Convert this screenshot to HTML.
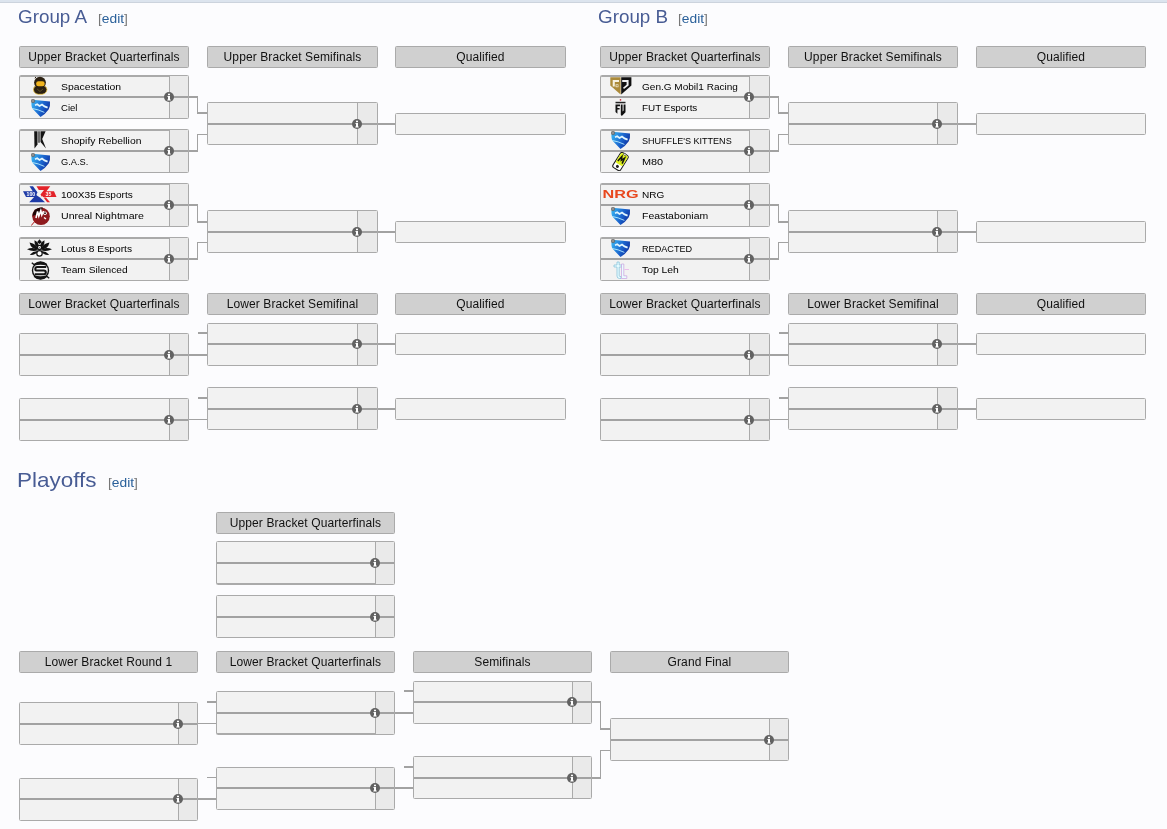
<!DOCTYPE html><html><head><meta charset="utf-8"><style>
*{margin:0;padding:0;box-sizing:content-box}
html,body{width:1167px;height:829px;overflow:hidden;background:#fcfcfe;font-family:"Liberation Sans",sans-serif;position:relative}
#wrap{position:absolute;left:0;top:0;width:1167px;height:829px;will-change:transform}
.topbar{position:absolute;left:0;top:0;width:1167px;height:2px;background:#dce4ee;border-bottom:1px solid #ccd3dd}
.ttl{position:absolute;color:#485c94;white-space:nowrap;line-height:1;transform-origin:0 0}
.ed{position:absolute;font-size:13px;color:#777;white-space:nowrap;line-height:1;transform:scaleX(1.06);transform-origin:0 0}
.ed b{font-weight:normal;color:#2a609a}
.hd{position:absolute;background:#d0d0d0;border:1px solid #aaa;border-radius:1.5px;font-size:12px;line-height:20px;text-align:center;color:#111;white-space:nowrap;letter-spacing:0.1px}
.m{position:absolute;background:#f2f2f2;border:1px solid #aaa;border-radius:1.5px}
.sc{position:absolute;top:0;background:#eaeaea;border-left:1px solid #aaa}
.dv{position:absolute;left:0;height:2px;background:#a2a2a2}
.q{position:absolute;background:#f2f2f2;border:1px solid #aaa;border-radius:1.5px}
.ln{position:absolute}
.ic{position:absolute;width:10px;height:10px;line-height:0}
.tm{position:absolute;left:0;width:150px;height:20px}
.tn{position:absolute;left:41px;font-size:9.5px;line-height:12px;color:#000;white-space:nowrap;transform-origin:0 0}
.lg{position:absolute}
</style></head><body><div id="wrap"><svg width="0" height="0" style="position:absolute"><defs><linearGradient id="rlg" x1="0" y1="0.3" x2="1" y2="0.7"><stop offset="0" stop-color="#35aef0"/><stop offset="0.55" stop-color="#1a62cc"/><stop offset="1" stop-color="#0c2a98"/></linearGradient></defs></svg>
<div class="topbar"></div>
<div class="ttl" style="left:17.5px;top:8px;font-size:18px;transform:scaleX(1.046)">Group A</div>
<div class="ed" style="left:98px;top:12px">[<b>edit</b>]</div>
<div class="hd" style="left:19px;top:46px;width:168px;height:20px">Upper Bracket Quarterfinals</div>
<div class="hd" style="left:207px;top:46px;width:169px;height:20px">Upper Bracket Semifinals</div>
<div class="hd" style="left:395px;top:46px;width:169px;height:20px">Qualified</div>
<div class="m" style="left:19px;top:75px;width:168px;height:42px;box-shadow:inset 0 1px 0 #aaa">
<div class="sc" style="left:149px;width:18px;height:42px"></div>
<div class="dv" style="top:20px;width:168px"></div>
<div class="tm" style="top:0px"><svg class="lg" style="left:13px;top:0px" width="15" height="19" viewBox="0 0 15 19"><path d="M0.4 13.2 Q0.8 9.8 4 9.8 H10 Q13.4 9.8 14 13.2 Q13.8 17.4 9.2 18.3 H5.2 Q0.6 17.6 0.4 13.2 Z" fill="#2b2012" stroke="#f3cc4a" stroke-width="0.8"/><circle cx="7" cy="6.6" r="5.9" fill="#2b2012"/><path d="M1.8 2.2 L3 1" stroke="#2b2012" stroke-width="1"/><rect x="3.1" y="5.3" width="8.6" height="5" rx="2.4" fill="#f2b51e"/><path d="M4.2 13 L7 15.5 L10 13" stroke="#6b5a2a" stroke-width="0.8" fill="none"/></svg><span class="tn" style="top:5px;transform:scaleX(1.095)">Spacestation</span></div>
<div class="tm" style="top:22px"><svg class="lg" style="left:11px;top:1px" width="20" height="19" viewBox="0 0 20 19"><path d="M0.4 4.6 Q0.7 1.2 4 1.1 L19 2.4 Q19.5 6.8 17.6 10.6 Q14.2 15.6 9.5 17.9 L3 11.2 Q0.4 9.6 0.4 4.6 Z" fill="url(#rlg)"/><path d="M1.2 9.5 Q7 10.3 13.4 13.4" stroke="#b5ecff" stroke-width="0.9" fill="none"/><path d="M4 6.2 L6.2 5.2 L8.5 6.9 L11 5.5 L13.5 7.4 L16.6 8.6" stroke="#e2f6ff" stroke-width="1.7" fill="none"/><circle cx="2" cy="2" r="1.8" fill="#8f8f8f" stroke="#555" stroke-width="0.6"/></svg><span class="tn" style="top:4px;transform:scaleX(1.003)">Ciel</span></div>
</div>
<div class="ic" style="left:164px;top:92px"><svg width="10" height="10" viewBox="0 0 10 10"><circle cx="5" cy="5" r="5" fill="#626262"/><rect x="4" y="1.7" width="2" height="1.5" fill="#fff"/><path d="M3.5 4h2.5v3.6h0.7v1h-3.4v-1h0.7v-2.6h-0.5z" fill="#fff"/></svg></div>
<div class="m" style="left:19px;top:129px;width:168px;height:42px;box-shadow:inset 0 1px 0 #aaa">
<div class="sc" style="left:149px;width:18px;height:42px"></div>
<div class="dv" style="top:20px;width:168px"></div>
<div class="tm" style="top:0px"><svg class="lg" style="left:14px;top:1px" width="13" height="18" viewBox="0 0 13 18"><path d="M0.2 0.2H3.5V13.5L0.5 17.6Z" fill="#141414"/><path d="M4.1 0.2H5.9V11.7H4.1Z" fill="#5a5a5a"/><path d="M6.5 0.2H11.6L8.2 8L12 17.6L6.5 11Z" fill="#141414"/></svg><span class="tn" style="top:5px;transform:scaleX(1.087)">Shopify Rebellion</span></div>
<div class="tm" style="top:22px"><svg class="lg" style="left:11px;top:1px" width="20" height="19" viewBox="0 0 20 19"><path d="M0.4 4.6 Q0.7 1.2 4 1.1 L19 2.4 Q19.5 6.8 17.6 10.6 Q14.2 15.6 9.5 17.9 L3 11.2 Q0.4 9.6 0.4 4.6 Z" fill="url(#rlg)"/><path d="M1.2 9.5 Q7 10.3 13.4 13.4" stroke="#b5ecff" stroke-width="0.9" fill="none"/><path d="M4 6.2 L6.2 5.2 L8.5 6.9 L11 5.5 L13.5 7.4 L16.6 8.6" stroke="#e2f6ff" stroke-width="1.7" fill="none"/><circle cx="2" cy="2" r="1.8" fill="#8f8f8f" stroke="#555" stroke-width="0.6"/></svg><span class="tn" style="top:4px;transform:scaleX(0.975)">G.A.S.</span></div>
</div>
<div class="ic" style="left:164px;top:146px"><svg width="10" height="10" viewBox="0 0 10 10"><circle cx="5" cy="5" r="5" fill="#626262"/><rect x="4" y="1.7" width="2" height="1.5" fill="#fff"/><path d="M3.5 4h2.5v3.6h0.7v1h-3.4v-1h0.7v-2.6h-0.5z" fill="#fff"/></svg></div>
<div class="m" style="left:19px;top:183px;width:168px;height:42px;box-shadow:inset 0 1px 0 #aaa">
<div class="sc" style="left:149px;width:18px;height:42px"></div>
<div class="dv" style="top:20px;width:168px"></div>
<div class="tm" style="top:0px"><svg class="lg" style="left:3px;top:2px" width="34" height="17" viewBox="0 0 34 17"><path d="M6.5 0.3H10L14.5 6.5L12.5 9.5z" fill="#1d3aa6"/><path d="M0 5.2H13.5V11H3z" fill="#1d3aa6"/><path d="M13 9 L17 11.5 L22 16.2H6.2z" fill="#1d3aa6"/><path d="M13.5 0.3H27.3L19 11L17.5 8.5L21 4H15.8z" fill="#e3232a"/><path d="M20 5.2H31L33.5 11H20z" fill="#e3232a"/><path d="M20.5 11.5H23L27 16.2H24.2z" fill="#e3232a"/><text x="3.6" y="10" font-size="5.2" font-family="Liberation Sans" font-weight="bold" fill="#fff">100</text><text x="22.5" y="10" font-size="5.2" font-family="Liberation Sans" font-weight="bold" fill="#fff">35</text></svg><span class="tn" style="top:5px;transform:scaleX(1.061)">100X35 Esports</span></div>
<div class="tm" style="top:22px"><svg class="lg" style="left:11px;top:1px" width="20" height="19" viewBox="0 0 20 19"><circle cx="10" cy="9.2" r="8.8" fill="#8e1a1e"/><path d="M1.5 9 A8.8 8.8 0 0 1 12 0.6 L9 6z" fill="#1c0606"/><path d="M5 11 L6.6 4.5 L7.8 9 L9.8 3.6 L10.8 8 L12.5 4" stroke="#fff" stroke-width="1.6" fill="none"/><circle cx="14" cy="6.2" r="1.8" fill="#fff"/><circle cx="14" cy="6.2" r="0.9" fill="#1c0606"/><path d="M13 10.5 L15 12" stroke="#fff" stroke-width="1.3"/><path d="M0.2 18.6 L4.5 13.5" stroke="#b01a1a" stroke-width="1"/></svg><span class="tn" style="top:4px;transform:scaleX(1.114)">Unreal Nightmare</span></div>
</div>
<div class="ic" style="left:164px;top:200px"><svg width="10" height="10" viewBox="0 0 10 10"><circle cx="5" cy="5" r="5" fill="#626262"/><rect x="4" y="1.7" width="2" height="1.5" fill="#fff"/><path d="M3.5 4h2.5v3.6h0.7v1h-3.4v-1h0.7v-2.6h-0.5z" fill="#fff"/></svg></div>
<div class="m" style="left:19px;top:237px;width:168px;height:42px;box-shadow:inset 0 1px 0 #aaa">
<div class="sc" style="left:149px;width:18px;height:42px"></div>
<div class="dv" style="top:20px;width:168px"></div>
<div class="tm" style="top:0px"><svg class="lg" style="left:7px;top:1px" width="26" height="18" viewBox="0 0 26 18"><path d="M12.5 0.2 L15 3.2 L12.5 5 L10 3.2z" fill="#111"/><path d="M7.5 1.2 Q12 3.5 12.3 9 Q7 7.5 7.5 1.2z" fill="#111"/><path d="M17.5 1.2 Q13 3.5 12.7 9 Q18 7.5 17.5 1.2z" fill="#111"/><path d="M2.5 3.5 Q10 5 11.5 10.5 Q4 10.5 2.5 3.5z" fill="#111"/><path d="M22.5 3.5 Q15 5 13.5 10.5 Q21 10.5 22.5 3.5z" fill="#111"/><path d="M0 10.3 Q6 7.5 11.5 11 Q6 13.5 0 10.3z" fill="#111"/><path d="M25 10.3 Q19 7.5 13.5 11 Q19 13.5 25 10.3z" fill="#111"/><path d="M2.8 15.8 Q7 11.5 11 12.5 Q8 16.5 2.8 15.8z" fill="#111"/><path d="M22.2 15.8 Q18 11.5 14 12.5 Q17 16.5 22.2 15.8z" fill="#111"/><circle cx="12.5" cy="8.4" r="2.6" fill="#111"/><circle cx="12.5" cy="8.4" r="1.4" fill="#fff"/><rect x="11.8" y="8" width="1.4" height="0.6" fill="#111"/><circle cx="12.5" cy="14.4" r="2.7" fill="#fff" stroke="#111" stroke-width="1.2"/></svg><span class="tn" style="top:5px;transform:scaleX(1.076)">Lotus 8 Esports</span></div>
<div class="tm" style="top:22px"><svg class="lg" style="left:11px;top:1px" width="19" height="19" viewBox="0 0 19 19"><circle cx="9.5" cy="9.5" r="8" fill="none" stroke="#151515" stroke-width="1.4"/><path d="M3.2 3.6 Q9.5 -1.6 15.8 3.6 Q9.5 2.4 3.2 3.6z" fill="#151515" stroke="#151515" stroke-width="1.6"/><path d="M3.2 15.4 Q9.5 20.6 15.8 15.4 Q9.5 16.6 3.2 15.4z" fill="#151515" stroke="#151515" stroke-width="1.6"/><path d="M15.2 6 H6.2 Q4.3 6 4.3 7.9 Q4.3 9.6 6.2 9.6 H12.8 Q14.8 9.6 14.8 11.4 Q14.8 13.2 12.8 13.2 H3.8" stroke="#151515" stroke-width="2" fill="none"/><path d="M0.8 1.8 L3.2 3.8 M18.2 17.2 L15.8 15.2" stroke="#151515" stroke-width="1.4"/></svg><span class="tn" style="top:4px;transform:scaleX(1.069)">Team Silenced</span></div>
</div>
<div class="ic" style="left:164px;top:254px"><svg width="10" height="10" viewBox="0 0 10 10"><circle cx="5" cy="5" r="5" fill="#626262"/><rect x="4" y="1.7" width="2" height="1.5" fill="#fff"/><path d="M3.5 4h2.5v3.6h0.7v1h-3.4v-1h0.7v-2.6h-0.5z" fill="#fff"/></svg></div>
<div class="m" style="left:207px;top:102px;width:169px;height:41px">
<div class="sc" style="left:149px;width:19px;height:41px"></div>
<div class="dv" style="top:20px;width:169px"></div>
</div>
<div class="ic" style="left:352px;top:119px"><svg width="10" height="10" viewBox="0 0 10 10"><circle cx="5" cy="5" r="5" fill="#626262"/><rect x="4" y="1.7" width="2" height="1.5" fill="#fff"/><path d="M3.5 4h2.5v3.6h0.7v1h-3.4v-1h0.7v-2.6h-0.5z" fill="#fff"/></svg></div>
<div class="m" style="left:207px;top:210px;width:169px;height:41px">
<div class="sc" style="left:149px;width:19px;height:41px"></div>
<div class="dv" style="top:20px;width:169px"></div>
</div>
<div class="ic" style="left:352px;top:227px"><svg width="10" height="10" viewBox="0 0 10 10"><circle cx="5" cy="5" r="5" fill="#626262"/><rect x="4" y="1.7" width="2" height="1.5" fill="#fff"/><path d="M3.5 4h2.5v3.6h0.7v1h-3.4v-1h0.7v-2.6h-0.5z" fill="#fff"/></svg></div>
<div class="q" style="left:395px;top:113px;width:169px;height:20px"></div>
<div class="q" style="left:395px;top:221px;width:169px;height:20px"></div>
<div class="ln" style="left:189px;top:96px;width:9px;height:2px;background:#a2a2a2"></div>
<div class="ln" style="left:197px;top:96px;width:1px;height:17px;background:#a2a2a2"></div>
<div class="ln" style="left:197px;top:112px;width:10px;height:2px;background:#a2a2a2"></div>
<div class="ln" style="left:189px;top:150px;width:9px;height:2px;background:#a2a2a2"></div>
<div class="ln" style="left:197px;top:134px;width:1px;height:17px;background:#a2a2a2"></div>
<div class="ln" style="left:197px;top:134px;width:10px;height:1px;background:#a2a2a2"></div>
<div class="ln" style="left:378px;top:123px;width:17px;height:2px;background:#a2a2a2"></div>
<div class="ln" style="left:189px;top:204px;width:9px;height:2px;background:#a2a2a2"></div>
<div class="ln" style="left:197px;top:204px;width:1px;height:18px;background:#a2a2a2"></div>
<div class="ln" style="left:197px;top:221px;width:10px;height:2px;background:#a2a2a2"></div>
<div class="ln" style="left:189px;top:258px;width:9px;height:2px;background:#a2a2a2"></div>
<div class="ln" style="left:197px;top:242px;width:1px;height:17px;background:#a2a2a2"></div>
<div class="ln" style="left:197px;top:242px;width:10px;height:1px;background:#a2a2a2"></div>
<div class="ln" style="left:378px;top:231px;width:17px;height:2px;background:#a2a2a2"></div>
<div class="hd" style="left:19px;top:293px;width:168px;height:20px">Lower Bracket Quarterfinals</div>
<div class="hd" style="left:207px;top:293px;width:169px;height:20px">Lower Bracket Semifinal</div>
<div class="hd" style="left:395px;top:293px;width:169px;height:20px">Qualified</div>
<div class="m" style="left:19px;top:333px;width:168px;height:41px">
<div class="sc" style="left:149px;width:18px;height:41px"></div>
<div class="dv" style="top:20px;width:168px"></div>
</div>
<div class="ic" style="left:164px;top:350px"><svg width="10" height="10" viewBox="0 0 10 10"><circle cx="5" cy="5" r="5" fill="#626262"/><rect x="4" y="1.7" width="2" height="1.5" fill="#fff"/><path d="M3.5 4h2.5v3.6h0.7v1h-3.4v-1h0.7v-2.6h-0.5z" fill="#fff"/></svg></div>
<div class="m" style="left:19px;top:398px;width:168px;height:41px">
<div class="sc" style="left:149px;width:18px;height:41px"></div>
<div class="dv" style="top:20px;width:168px"></div>
</div>
<div class="ic" style="left:164px;top:415px"><svg width="10" height="10" viewBox="0 0 10 10"><circle cx="5" cy="5" r="5" fill="#626262"/><rect x="4" y="1.7" width="2" height="1.5" fill="#fff"/><path d="M3.5 4h2.5v3.6h0.7v1h-3.4v-1h0.7v-2.6h-0.5z" fill="#fff"/></svg></div>
<div class="m" style="left:207px;top:323px;width:169px;height:41px">
<div class="sc" style="left:149px;width:19px;height:41px"></div>
<div class="dv" style="top:19px;width:169px"></div>
</div>
<div class="ic" style="left:352px;top:339px"><svg width="10" height="10" viewBox="0 0 10 10"><circle cx="5" cy="5" r="5" fill="#626262"/><rect x="4" y="1.7" width="2" height="1.5" fill="#fff"/><path d="M3.5 4h2.5v3.6h0.7v1h-3.4v-1h0.7v-2.6h-0.5z" fill="#fff"/></svg></div>
<div class="m" style="left:207px;top:387px;width:169px;height:41px">
<div class="sc" style="left:149px;width:19px;height:41px"></div>
<div class="dv" style="top:20px;width:169px"></div>
</div>
<div class="ic" style="left:352px;top:404px"><svg width="10" height="10" viewBox="0 0 10 10"><circle cx="5" cy="5" r="5" fill="#626262"/><rect x="4" y="1.7" width="2" height="1.5" fill="#fff"/><path d="M3.5 4h2.5v3.6h0.7v1h-3.4v-1h0.7v-2.6h-0.5z" fill="#fff"/></svg></div>
<div class="q" style="left:395px;top:333px;width:169px;height:20px"></div>
<div class="q" style="left:395px;top:398px;width:169px;height:20px"></div>
<div class="ln" style="left:198px;top:332px;width:9px;height:2px;background:#a2a2a2"></div>
<div class="ln" style="left:198px;top:397px;width:9px;height:2px;background:#a2a2a2"></div>
<div class="ln" style="left:189px;top:354px;width:18px;height:2px;background:#a2a2a2"></div>
<div class="ln" style="left:189px;top:419px;width:18px;height:1px;background:#a2a2a2"></div>
<div class="ln" style="left:378px;top:343px;width:17px;height:2px;background:#a2a2a2"></div>
<div class="ln" style="left:378px;top:408px;width:17px;height:2px;background:#a2a2a2"></div>
<div class="ttl" style="left:598px;top:8px;font-size:18px;transform:scaleX(1.046)">Group B</div>
<div class="ed" style="left:678px;top:12px">[<b>edit</b>]</div>
<div class="hd" style="left:600px;top:46px;width:168px;height:20px">Upper Bracket Quarterfinals</div>
<div class="hd" style="left:788px;top:46px;width:168px;height:20px">Upper Bracket Semifinals</div>
<div class="hd" style="left:976px;top:46px;width:168px;height:20px">Qualified</div>
<div class="m" style="left:600px;top:75px;width:168px;height:42px;box-shadow:inset 0 1px 0 #aaa">
<div class="sc" style="left:148px;width:19px;height:42px"></div>
<div class="dv" style="top:20px;width:168px"></div>
<div class="tm" style="top:0px"><svg class="lg" style="left:9px;top:1px" width="22" height="18" viewBox="0 0 22 18"><path d="M0.3 0.2H10.6V17.6L0.3 8.6z" fill="#ab8a3a"/><path d="M11.2 0.2H21.4V8.6L11.2 17.6z" fill="#111"/><path d="M2.7 3H9V5H4.8V9.4H2.7z" fill="#f6f1e2"/><path d="M5.6 7.4H8.4V10.2H5.6z" fill="#f6f1e2"/><path d="M6.4 8H7.8V9.6H6.4z" fill="#ab8a3a"/><path d="M12.2 3H18.6V8.4L14 12L13 10.8L16.6 7.7V5H12.2z" fill="#f0f0f0"/></svg><span class="tn" style="top:5px;transform:scaleX(1.056)">Gen.G Mobil1 Racing</span></div>
<div class="tm" style="top:22px"><svg class="lg" style="left:14px;top:1px" width="11" height="18" viewBox="0 0 11 18"><circle cx="5.5" cy="0.9" r="0.8" fill="#c23"/><rect x="0.5" y="2.8" width="10" height="1.5" fill="#222"/><path d="M0.5 5.5H5V7.2H2.4V9H4.6V10.6H2.4V14.8L0.5 13z" fill="#111"/><path d="M5.8 5.5H7.6V12.5L8.6 11.5V5.5H10.5V13.2L6.8 17L5.8 15.8z" fill="#111"/></svg><span class="tn" style="top:4px;transform:scaleX(1.041)">FUT Esports</span></div>
</div>
<div class="ic" style="left:744px;top:92px"><svg width="10" height="10" viewBox="0 0 10 10"><circle cx="5" cy="5" r="5" fill="#626262"/><rect x="4" y="1.7" width="2" height="1.5" fill="#fff"/><path d="M3.5 4h2.5v3.6h0.7v1h-3.4v-1h0.7v-2.6h-0.5z" fill="#fff"/></svg></div>
<div class="m" style="left:600px;top:129px;width:168px;height:42px;box-shadow:inset 0 1px 0 #aaa">
<div class="sc" style="left:148px;width:19px;height:42px"></div>
<div class="dv" style="top:20px;width:168px"></div>
<div class="tm" style="top:0px"><svg class="lg" style="left:10px;top:1px" width="20" height="19" viewBox="0 0 20 19"><path d="M0.4 4.6 Q0.7 1.2 4 1.1 L19 2.4 Q19.5 6.8 17.6 10.6 Q14.2 15.6 9.5 17.9 L3 11.2 Q0.4 9.6 0.4 4.6 Z" fill="url(#rlg)"/><path d="M1.2 9.5 Q7 10.3 13.4 13.4" stroke="#b5ecff" stroke-width="0.9" fill="none"/><path d="M4 6.2 L6.2 5.2 L8.5 6.9 L11 5.5 L13.5 7.4 L16.6 8.6" stroke="#e2f6ff" stroke-width="1.7" fill="none"/><circle cx="2" cy="2" r="1.8" fill="#8f8f8f" stroke="#555" stroke-width="0.6"/></svg><span class="tn" style="top:5px;transform:scaleX(0.952)">SHUFFLE&#39;S KITTENS</span></div>
<div class="tm" style="top:22px"><svg class="lg" style="left:11px;top:0px" width="17" height="19" viewBox="0 0 17 19"><g transform="rotate(32 8.5 9.5)"><rect x="4" y="0.8" width="9" height="17.5" rx="2" fill="#fff" stroke="#1a1a1a" stroke-width="1"/><rect x="4.5" y="1.3" width="8" height="11.5" rx="1.5" fill="#dff21c"/><circle cx="8.5" cy="1.2" r="1.1" fill="#fff" stroke="#333" stroke-width="0.6"/><path d="M6 10.5 L7 4.5 L8.6 8 L10.2 4.5 L11 10.5" stroke="#111" stroke-width="1.5" fill="none"/><circle cx="8.5" cy="15.3" r="1.5" fill="#222"/></g></svg><span class="tn" style="top:4px;transform:scaleX(1.146)">M80</span></div>
</div>
<div class="ic" style="left:744px;top:146px"><svg width="10" height="10" viewBox="0 0 10 10"><circle cx="5" cy="5" r="5" fill="#626262"/><rect x="4" y="1.7" width="2" height="1.5" fill="#fff"/><path d="M3.5 4h2.5v3.6h0.7v1h-3.4v-1h0.7v-2.6h-0.5z" fill="#fff"/></svg></div>
<div class="m" style="left:600px;top:183px;width:168px;height:42px;box-shadow:inset 0 1px 0 #aaa">
<div class="sc" style="left:148px;width:19px;height:42px"></div>
<div class="dv" style="top:20px;width:168px"></div>
<div class="tm" style="top:0px"><svg class="lg" style="left:0.5px;top:6px" width="37" height="9" viewBox="0 0 37 9"><text x="0.5" y="8.3" font-size="11" font-family="Liberation Sans" font-weight="bold" fill="#e8471d" textLength="36" lengthAdjust="spacingAndGlyphs">NRG</text></svg><span class="tn" style="top:5px;transform:scaleX(1.056)">NRG</span></div>
<div class="tm" style="top:22px"><svg class="lg" style="left:10px;top:1px" width="20" height="19" viewBox="0 0 20 19"><path d="M0.4 4.6 Q0.7 1.2 4 1.1 L19 2.4 Q19.5 6.8 17.6 10.6 Q14.2 15.6 9.5 17.9 L3 11.2 Q0.4 9.6 0.4 4.6 Z" fill="url(#rlg)"/><path d="M1.2 9.5 Q7 10.3 13.4 13.4" stroke="#b5ecff" stroke-width="0.9" fill="none"/><path d="M4 6.2 L6.2 5.2 L8.5 6.9 L11 5.5 L13.5 7.4 L16.6 8.6" stroke="#e2f6ff" stroke-width="1.7" fill="none"/><circle cx="2" cy="2" r="1.8" fill="#8f8f8f" stroke="#555" stroke-width="0.6"/></svg><span class="tn" style="top:4px;transform:scaleX(1.099)">Feastaboniam</span></div>
</div>
<div class="ic" style="left:744px;top:200px"><svg width="10" height="10" viewBox="0 0 10 10"><circle cx="5" cy="5" r="5" fill="#626262"/><rect x="4" y="1.7" width="2" height="1.5" fill="#fff"/><path d="M3.5 4h2.5v3.6h0.7v1h-3.4v-1h0.7v-2.6h-0.5z" fill="#fff"/></svg></div>
<div class="m" style="left:600px;top:237px;width:168px;height:42px;box-shadow:inset 0 1px 0 #aaa">
<div class="sc" style="left:148px;width:19px;height:42px"></div>
<div class="dv" style="top:20px;width:168px"></div>
<div class="tm" style="top:0px"><svg class="lg" style="left:10px;top:1px" width="20" height="19" viewBox="0 0 20 19"><path d="M0.4 4.6 Q0.7 1.2 4 1.1 L19 2.4 Q19.5 6.8 17.6 10.6 Q14.2 15.6 9.5 17.9 L3 11.2 Q0.4 9.6 0.4 4.6 Z" fill="url(#rlg)"/><path d="M1.2 9.5 Q7 10.3 13.4 13.4" stroke="#b5ecff" stroke-width="0.9" fill="none"/><path d="M4 6.2 L6.2 5.2 L8.5 6.9 L11 5.5 L13.5 7.4 L16.6 8.6" stroke="#e2f6ff" stroke-width="1.7" fill="none"/><circle cx="2" cy="2" r="1.8" fill="#8f8f8f" stroke="#555" stroke-width="0.6"/></svg><span class="tn" style="top:5px;transform:scaleX(0.96)">REDACTED</span></div>
<div class="tm" style="top:22px"><svg class="lg" style="left:11px;top:1px" width="18" height="19" viewBox="0 0 18 19"><path d="M5 1 V4 H2 V6 H5 V15 Q5 17.5 7.5 17.5 H9 V15.5 H8 Q7.2 15.5 7.2 14.5 V6 H10 V4 H7.2 V1z" fill="#e6fbff" stroke="#7fbfd8" stroke-width="0.7"/><path d="M9.5 3 H11.8 V14.8 H14.8 V17.5 H9.5z" fill="#eafcff" stroke="#c8a0e0" stroke-width="0.7"/><path d="M12.5 8.5 H17" stroke="#e8b0e8" stroke-width="0.8"/></svg><span class="tn" style="top:4px;transform:scaleX(1.091)">Top Leh</span></div>
</div>
<div class="ic" style="left:744px;top:254px"><svg width="10" height="10" viewBox="0 0 10 10"><circle cx="5" cy="5" r="5" fill="#626262"/><rect x="4" y="1.7" width="2" height="1.5" fill="#fff"/><path d="M3.5 4h2.5v3.6h0.7v1h-3.4v-1h0.7v-2.6h-0.5z" fill="#fff"/></svg></div>
<div class="m" style="left:788px;top:102px;width:168px;height:41px">
<div class="sc" style="left:148px;width:19px;height:41px"></div>
<div class="dv" style="top:20px;width:168px"></div>
</div>
<div class="ic" style="left:932px;top:119px"><svg width="10" height="10" viewBox="0 0 10 10"><circle cx="5" cy="5" r="5" fill="#626262"/><rect x="4" y="1.7" width="2" height="1.5" fill="#fff"/><path d="M3.5 4h2.5v3.6h0.7v1h-3.4v-1h0.7v-2.6h-0.5z" fill="#fff"/></svg></div>
<div class="m" style="left:788px;top:210px;width:168px;height:41px">
<div class="sc" style="left:148px;width:19px;height:41px"></div>
<div class="dv" style="top:20px;width:168px"></div>
</div>
<div class="ic" style="left:932px;top:227px"><svg width="10" height="10" viewBox="0 0 10 10"><circle cx="5" cy="5" r="5" fill="#626262"/><rect x="4" y="1.7" width="2" height="1.5" fill="#fff"/><path d="M3.5 4h2.5v3.6h0.7v1h-3.4v-1h0.7v-2.6h-0.5z" fill="#fff"/></svg></div>
<div class="q" style="left:976px;top:113px;width:168px;height:20px"></div>
<div class="q" style="left:976px;top:221px;width:168px;height:20px"></div>
<div class="ln" style="left:770px;top:96px;width:9px;height:2px;background:#a2a2a2"></div>
<div class="ln" style="left:778px;top:96px;width:1px;height:17px;background:#a2a2a2"></div>
<div class="ln" style="left:778px;top:112px;width:10px;height:2px;background:#a2a2a2"></div>
<div class="ln" style="left:770px;top:150px;width:9px;height:2px;background:#a2a2a2"></div>
<div class="ln" style="left:778px;top:134px;width:1px;height:17px;background:#a2a2a2"></div>
<div class="ln" style="left:778px;top:134px;width:10px;height:1px;background:#a2a2a2"></div>
<div class="ln" style="left:958px;top:123px;width:18px;height:2px;background:#a2a2a2"></div>
<div class="ln" style="left:770px;top:204px;width:9px;height:2px;background:#a2a2a2"></div>
<div class="ln" style="left:778px;top:204px;width:1px;height:18px;background:#a2a2a2"></div>
<div class="ln" style="left:778px;top:221px;width:10px;height:2px;background:#a2a2a2"></div>
<div class="ln" style="left:770px;top:258px;width:9px;height:2px;background:#a2a2a2"></div>
<div class="ln" style="left:778px;top:242px;width:1px;height:17px;background:#a2a2a2"></div>
<div class="ln" style="left:778px;top:242px;width:10px;height:1px;background:#a2a2a2"></div>
<div class="ln" style="left:958px;top:231px;width:18px;height:2px;background:#a2a2a2"></div>
<div class="hd" style="left:600px;top:293px;width:168px;height:20px">Lower Bracket Quarterfinals</div>
<div class="hd" style="left:788px;top:293px;width:168px;height:20px">Lower Bracket Semifinal</div>
<div class="hd" style="left:976px;top:293px;width:168px;height:20px">Qualified</div>
<div class="m" style="left:600px;top:333px;width:168px;height:41px">
<div class="sc" style="left:148px;width:19px;height:41px"></div>
<div class="dv" style="top:20px;width:168px"></div>
</div>
<div class="ic" style="left:744px;top:350px"><svg width="10" height="10" viewBox="0 0 10 10"><circle cx="5" cy="5" r="5" fill="#626262"/><rect x="4" y="1.7" width="2" height="1.5" fill="#fff"/><path d="M3.5 4h2.5v3.6h0.7v1h-3.4v-1h0.7v-2.6h-0.5z" fill="#fff"/></svg></div>
<div class="m" style="left:600px;top:398px;width:168px;height:41px">
<div class="sc" style="left:148px;width:19px;height:41px"></div>
<div class="dv" style="top:20px;width:168px"></div>
</div>
<div class="ic" style="left:744px;top:415px"><svg width="10" height="10" viewBox="0 0 10 10"><circle cx="5" cy="5" r="5" fill="#626262"/><rect x="4" y="1.7" width="2" height="1.5" fill="#fff"/><path d="M3.5 4h2.5v3.6h0.7v1h-3.4v-1h0.7v-2.6h-0.5z" fill="#fff"/></svg></div>
<div class="m" style="left:788px;top:323px;width:168px;height:41px">
<div class="sc" style="left:148px;width:19px;height:41px"></div>
<div class="dv" style="top:19px;width:168px"></div>
</div>
<div class="ic" style="left:932px;top:339px"><svg width="10" height="10" viewBox="0 0 10 10"><circle cx="5" cy="5" r="5" fill="#626262"/><rect x="4" y="1.7" width="2" height="1.5" fill="#fff"/><path d="M3.5 4h2.5v3.6h0.7v1h-3.4v-1h0.7v-2.6h-0.5z" fill="#fff"/></svg></div>
<div class="m" style="left:788px;top:387px;width:168px;height:41px">
<div class="sc" style="left:148px;width:19px;height:41px"></div>
<div class="dv" style="top:20px;width:168px"></div>
</div>
<div class="ic" style="left:932px;top:404px"><svg width="10" height="10" viewBox="0 0 10 10"><circle cx="5" cy="5" r="5" fill="#626262"/><rect x="4" y="1.7" width="2" height="1.5" fill="#fff"/><path d="M3.5 4h2.5v3.6h0.7v1h-3.4v-1h0.7v-2.6h-0.5z" fill="#fff"/></svg></div>
<div class="q" style="left:976px;top:333px;width:168px;height:20px"></div>
<div class="q" style="left:976px;top:398px;width:168px;height:20px"></div>
<div class="ln" style="left:779px;top:332px;width:9px;height:2px;background:#a2a2a2"></div>
<div class="ln" style="left:779px;top:397px;width:9px;height:2px;background:#a2a2a2"></div>
<div class="ln" style="left:770px;top:354px;width:18px;height:2px;background:#a2a2a2"></div>
<div class="ln" style="left:770px;top:419px;width:18px;height:1px;background:#a2a2a2"></div>
<div class="ln" style="left:958px;top:343px;width:18px;height:2px;background:#a2a2a2"></div>
<div class="ln" style="left:958px;top:408px;width:18px;height:2px;background:#a2a2a2"></div>
<div class="ttl" style="left:17px;top:469px;font-size:21px;transform:scaleX(1.07)">Playoffs</div>
<div class="ed" style="left:107.5px;top:476px">[<b>edit</b>]</div>
<div class="hd" style="left:216px;top:512px;width:177px;height:20px">Upper Bracket Quarterfinals</div>
<div class="m" style="left:216px;top:541px;width:177px;height:42px;box-shadow:inset 0 -1px 0 #aaa">
<div class="sc" style="left:158px;width:18px;height:42px"></div>
<div class="dv" style="top:20px;width:177px"></div>
</div>
<div class="ic" style="left:370px;top:558px"><svg width="10" height="10" viewBox="0 0 10 10"><circle cx="5" cy="5" r="5" fill="#626262"/><rect x="4" y="1.7" width="2" height="1.5" fill="#fff"/><path d="M3.5 4h2.5v3.6h0.7v1h-3.4v-1h0.7v-2.6h-0.5z" fill="#fff"/></svg></div>
<div class="m" style="left:216px;top:595px;width:177px;height:41px">
<div class="sc" style="left:158px;width:18px;height:41px"></div>
<div class="dv" style="top:20px;width:177px"></div>
</div>
<div class="ic" style="left:370px;top:612px"><svg width="10" height="10" viewBox="0 0 10 10"><circle cx="5" cy="5" r="5" fill="#626262"/><rect x="4" y="1.7" width="2" height="1.5" fill="#fff"/><path d="M3.5 4h2.5v3.6h0.7v1h-3.4v-1h0.7v-2.6h-0.5z" fill="#fff"/></svg></div>
<div class="hd" style="left:19px;top:651px;width:177px;height:20px">Lower Bracket Round 1</div>
<div class="hd" style="left:216px;top:651px;width:177px;height:20px">Lower Bracket Quarterfinals</div>
<div class="hd" style="left:413px;top:651px;width:177px;height:20px">Semifinals</div>
<div class="hd" style="left:610px;top:651px;width:177px;height:20px">Grand Final</div>
<div class="m" style="left:19px;top:702px;width:177px;height:41px">
<div class="sc" style="left:158px;width:18px;height:41px"></div>
<div class="dv" style="top:20px;width:177px"></div>
</div>
<div class="ic" style="left:173px;top:719px"><svg width="10" height="10" viewBox="0 0 10 10"><circle cx="5" cy="5" r="5" fill="#626262"/><rect x="4" y="1.7" width="2" height="1.5" fill="#fff"/><path d="M3.5 4h2.5v3.6h0.7v1h-3.4v-1h0.7v-2.6h-0.5z" fill="#fff"/></svg></div>
<div class="m" style="left:19px;top:778px;width:177px;height:41px">
<div class="sc" style="left:158px;width:18px;height:41px"></div>
<div class="dv" style="top:19px;width:177px"></div>
</div>
<div class="ic" style="left:173px;top:794px"><svg width="10" height="10" viewBox="0 0 10 10"><circle cx="5" cy="5" r="5" fill="#626262"/><rect x="4" y="1.7" width="2" height="1.5" fill="#fff"/><path d="M3.5 4h2.5v3.6h0.7v1h-3.4v-1h0.7v-2.6h-0.5z" fill="#fff"/></svg></div>
<div class="m" style="left:216px;top:691px;width:177px;height:42px;box-shadow:inset 0 -1px 0 #aaa">
<div class="sc" style="left:158px;width:18px;height:42px"></div>
<div class="dv" style="top:20px;width:177px"></div>
</div>
<div class="ic" style="left:370px;top:708px"><svg width="10" height="10" viewBox="0 0 10 10"><circle cx="5" cy="5" r="5" fill="#626262"/><rect x="4" y="1.7" width="2" height="1.5" fill="#fff"/><path d="M3.5 4h2.5v3.6h0.7v1h-3.4v-1h0.7v-2.6h-0.5z" fill="#fff"/></svg></div>
<div class="m" style="left:216px;top:767px;width:177px;height:41px">
<div class="sc" style="left:158px;width:18px;height:41px"></div>
<div class="dv" style="top:19px;width:177px"></div>
</div>
<div class="ic" style="left:370px;top:783px"><svg width="10" height="10" viewBox="0 0 10 10"><circle cx="5" cy="5" r="5" fill="#626262"/><rect x="4" y="1.7" width="2" height="1.5" fill="#fff"/><path d="M3.5 4h2.5v3.6h0.7v1h-3.4v-1h0.7v-2.6h-0.5z" fill="#fff"/></svg></div>
<div class="m" style="left:413px;top:681px;width:177px;height:41px">
<div class="sc" style="left:158px;width:18px;height:41px"></div>
<div class="dv" style="top:19px;width:177px"></div>
</div>
<div class="ic" style="left:567px;top:697px"><svg width="10" height="10" viewBox="0 0 10 10"><circle cx="5" cy="5" r="5" fill="#626262"/><rect x="4" y="1.7" width="2" height="1.5" fill="#fff"/><path d="M3.5 4h2.5v3.6h0.7v1h-3.4v-1h0.7v-2.6h-0.5z" fill="#fff"/></svg></div>
<div class="m" style="left:413px;top:756px;width:177px;height:41px">
<div class="sc" style="left:158px;width:18px;height:41px"></div>
<div class="dv" style="top:20px;width:177px"></div>
</div>
<div class="ic" style="left:567px;top:773px"><svg width="10" height="10" viewBox="0 0 10 10"><circle cx="5" cy="5" r="5" fill="#626262"/><rect x="4" y="1.7" width="2" height="1.5" fill="#fff"/><path d="M3.5 4h2.5v3.6h0.7v1h-3.4v-1h0.7v-2.6h-0.5z" fill="#fff"/></svg></div>
<div class="m" style="left:610px;top:718px;width:177px;height:41px">
<div class="sc" style="left:158px;width:18px;height:41px"></div>
<div class="dv" style="top:20px;width:177px"></div>
</div>
<div class="ic" style="left:764px;top:735px"><svg width="10" height="10" viewBox="0 0 10 10"><circle cx="5" cy="5" r="5" fill="#626262"/><rect x="4" y="1.7" width="2" height="1.5" fill="#fff"/><path d="M3.5 4h2.5v3.6h0.7v1h-3.4v-1h0.7v-2.6h-0.5z" fill="#fff"/></svg></div>
<div class="ln" style="left:207px;top:701px;width:9px;height:2px;background:#a2a2a2"></div>
<div class="ln" style="left:207px;top:777px;width:9px;height:1px;background:#a2a2a2"></div>
<div class="ln" style="left:404px;top:690px;width:9px;height:2px;background:#a2a2a2"></div>
<div class="ln" style="left:404px;top:766px;width:9px;height:2px;background:#a2a2a2"></div>
<div class="ln" style="left:198px;top:723px;width:18px;height:1px;background:#a2a2a2"></div>
<div class="ln" style="left:198px;top:798px;width:18px;height:2px;background:#a2a2a2"></div>
<div class="ln" style="left:395px;top:712px;width:18px;height:2px;background:#a2a2a2"></div>
<div class="ln" style="left:395px;top:787px;width:18px;height:2px;background:#a2a2a2"></div>
<div class="ln" style="left:592px;top:701px;width:9px;height:2px;background:#a2a2a2"></div>
<div class="ln" style="left:600px;top:701px;width:1px;height:29px;background:#a2a2a2"></div>
<div class="ln" style="left:600px;top:728px;width:10px;height:2px;background:#a2a2a2"></div>
<div class="ln" style="left:592px;top:777px;width:9px;height:2px;background:#a2a2a2"></div>
<div class="ln" style="left:600px;top:750px;width:1px;height:28px;background:#a2a2a2"></div>
<div class="ln" style="left:600px;top:750px;width:10px;height:1px;background:#a2a2a2"></div></div></body></html>
